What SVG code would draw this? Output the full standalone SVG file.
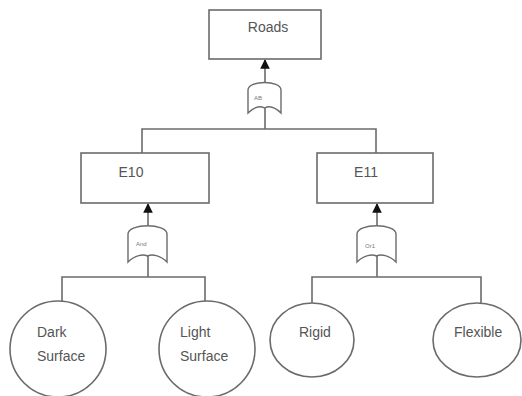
<svg xmlns="http://www.w3.org/2000/svg" width="522" height="396" viewBox="0 0 522 396">
  <style>
    .box { fill: #fff; stroke: #6b6b6b; stroke-width: 1.6; }
    .gate { fill: #fff; stroke: #6b6b6b; stroke-width: 1.4; }
    .wire { fill: none; stroke: #6b6b6b; stroke-width: 1.6; }
    .lbl { font-family: "Liberation Sans", Arial, sans-serif; font-size: 14px; fill: #555; }
    .glbl { font-family: "Liberation Sans", Arial, sans-serif; font-size: 6px; fill: #777; }
  </style>
  <defs>
    <marker id="arrow" viewBox="0 0 10 10" refX="9" refY="5" markerWidth="6" markerHeight="6" orient="auto">
      <path d="M0,0 L10,5 L0,10 Z" fill="#111"/>
    </marker>
  </defs>
  <rect width="522" height="396" fill="#fff"/>

  <g id="connectors">
    <!-- top gate to Roads -->
    <line class="wire" x1="265" y1="82" x2="265" y2="60" marker-end="url(#arrow)"/>
    <polyline class="wire" points="142,153 142,129 376,129 376,153"/>
    <line class="wire" x1="265" y1="107" x2="265" y2="129"/>
    <!-- E10 branch -->
    <line class="wire" x1="148" y1="226" x2="148" y2="204" marker-end="url(#arrow)"/>
    <line class="wire" x1="148" y1="256" x2="148" y2="277"/>
    <polyline class="wire" points="62,303 62,277 205,277 205,303"/>
    <!-- E11 branch -->
    <line class="wire" x1="377" y1="226" x2="377" y2="204" marker-end="url(#arrow)"/>
    <line class="wire" x1="377" y1="256" x2="377" y2="277"/>
    <polyline class="wire" points="312,303 312,277 481,277 481,303"/>
  </g>

  <g id="roads">
    <rect class="box" x="209" y="10" width="112" height="49"/>
    <text class="lbl" x="268" y="32" text-anchor="middle">Roads</text>
  </g>

  <g id="gate-top">
    <path class="gate" d="M248,113 L248,90 C248,80 281,80 281,90 L281,113 C274,106 268,106 264.5,108 C261,106 255,106 248,113 Z"/>
    <text class="glbl" x="254" y="100">AB</text>
  </g>

  <g id="e10">
    <rect class="box" x="81" y="153" width="128" height="50"/>
    <text class="lbl" x="131" y="177" text-anchor="middle">E10</text>
  </g>

  <g id="gate-e10">
    <path class="gate" d="M128,262 L128,234 C128,223 167,223 167,234 L167,262 C160,255 152,254 147.5,256 C143,254 135,255 128,262 Z"/>
    <text class="glbl" x="136" y="246">And</text>
  </g>

  <g id="e11">
    <rect class="box" x="317" y="153" width="116" height="50"/>
    <text class="lbl" x="366" y="177" text-anchor="middle">E11</text>
  </g>

  <g id="gate-e11">
    <path class="gate" d="M357,262 L357,234 C357,223 396,223 396,234 L396,262 C389,255 381,254 376.5,256 C372,254 364,255 357,262 Z"/>
    <text class="glbl" x="365" y="248">Or1</text>
  </g>

  <g id="dark-surface">
    <circle class="box" cx="58" cy="349" r="48"/>
    <text class="lbl" x="37" y="337">Dark</text>
    <text class="lbl" x="37" y="361">Surface</text>
  </g>

  <g id="light-surface">
    <circle class="box" cx="207" cy="349" r="48"/>
    <text class="lbl" x="180" y="337">Light</text>
    <text class="lbl" x="180" y="361">Surface</text>
  </g>

  <g id="rigid">
    <ellipse class="box" cx="312" cy="340" rx="42" ry="37"/>
    <text class="lbl" x="299" y="337">Rigid</text>
  </g>

  <g id="flexible">
    <ellipse class="box" cx="477" cy="340" rx="44" ry="37"/>
    <text class="lbl" x="454" y="337">Flexible</text>
  </g>
</svg>
